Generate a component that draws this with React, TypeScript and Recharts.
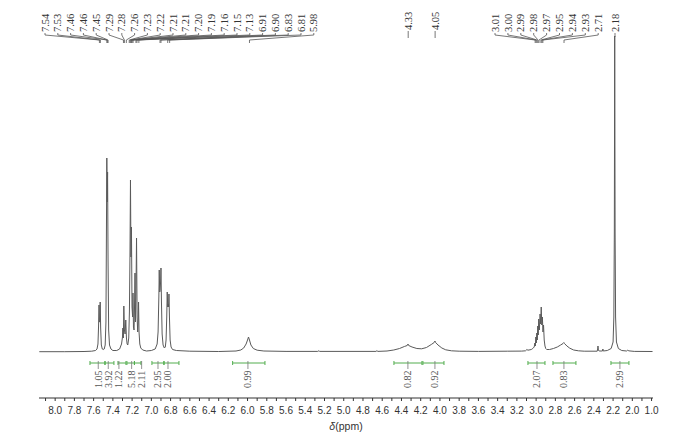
import React from 'react';
import { ComposedChart, Line, Scatter, XAxis, YAxis, ReferenceLine } from 'recharts';

// 1H NMR trace: [chemical shift (ppm), intensity]
const spectrum: [number, number][] = [
  [8.165, 0.3], [7.9, 0.3], [7.7, 0.5], [7.62, 0.8], [7.58, 1.5], [7.565, 3], [7.555, 8],
  [7.549, 25], [7.544, 47], [7.54, 30], [7.536, 30], [7.532, 50], [7.527, 24], [7.52, 7],
  [7.51, 3], [7.5, 2.5], [7.49, 3], [7.48, 7], [7.472, 30], [7.467, 120], [7.463, 194],
  [7.459, 150], [7.455, 180], [7.45, 90], [7.444, 22], [7.435, 7], [7.42, 3], [7.4, 1.5],
  [7.36, 1.5], [7.33, 3], [7.31, 8], [7.3, 15], [7.296, 24], [7.291, 14], [7.286, 46],
  [7.28, 22], [7.273, 18], [7.266, 32], [7.259, 14], [7.252, 8], [7.245, 7], [7.235, 14],
  [7.228, 40], [7.222, 100], [7.217, 172], [7.212, 95], [7.207, 125], [7.201, 45],
  [7.195, 35], [7.191, 59], [7.186, 25], [7.18, 22], [7.175, 45], [7.17, 79], [7.165, 30],
  [7.16, 60], [7.154, 114], [7.148, 35], [7.142, 20], [7.137, 30], [7.133, 50], [7.128, 20],
  [7.12, 8], [7.11, 4], [7.09, 2], [7.05, 1], [7.0, 1.5], [6.96, 3], [6.94, 8], [6.93, 20],
  [6.922, 55], [6.918, 82], [6.913, 60], [6.909, 62], [6.904, 70], [6.9, 84], [6.895, 50],
  [6.888, 18], [6.878, 7], [6.865, 4], [6.855, 5], [6.847, 12], [6.84, 35], [6.835, 60],
  [6.83, 45], [6.826, 48], [6.821, 45], [6.817, 58], [6.812, 35], [6.805, 12], [6.795, 5],
  [6.78, 2.5], [6.74, 1.5], [6.6, 0.8], [6.3, 0.5], [6.12, 1], [6.07, 2], [6.04, 4],
  [6.015, 8], [6.0, 12], [5.99, 15], [5.98, 12], [5.965, 7], [5.94, 3.5], [5.9, 1.8],
  [5.83, 1], [5.6, 0.6], [5.27, 0.6], [5.258, 1.3], [5.25, 0.6], [4.665, 0.6], [4.655, 1.3],
  [4.645, 0.6], [4.55, 1], [4.48, 2], [4.42, 3.5], [4.37, 5.5], [4.34, 6.5], [4.332, 8],
  [4.325, 6.5], [4.29, 5], [4.24, 3.5], [4.19, 3.2], [4.14, 4.5], [4.09, 7.5], [4.06, 9.5],
  [4.052, 11], [4.045, 9.5], [4.02, 7], [3.98, 4], [3.94, 2.2], [3.88, 1.2], [3.8, 0.8],
  [3.6, 0.6], [3.3, 0.8], [3.15, 0.9], [3.11, 1.2], [3.096, 2.5], [3.085, 1.8], [3.05, 2.5],
  [3.035, 3.5], [3.02, 5], [3.013, 9], [3.008, 6], [3.003, 15], [2.998, 9], [2.993, 19],
  [2.988, 12], [2.983, 26], [2.978, 17], [2.973, 33], [2.966, 22], [2.959, 38], [2.953, 28],
  [2.947, 45], [2.941, 27], [2.935, 35], [2.929, 20], [2.923, 27], [2.916, 12], [2.908, 6],
  [2.9, 3.5], [2.89, 2.5], [2.86, 2.5], [2.82, 3.5], [2.78, 5], [2.745, 7], [2.72, 8.5],
  [2.712, 9.5], [2.705, 8.5], [2.68, 6], [2.65, 3.8], [2.61, 2], [2.56, 1.2], [2.5, 0.8],
  [2.365, 0.8], [2.36, 3], [2.357, 6], [2.353, 2], [2.345, 1], [2.31, 1], [2.306, 3],
  [2.302, 1], [2.26, 1.5], [2.22, 3.5], [2.2, 10], [2.192, 35], [2.187, 120], [2.183, 316],
  [2.179, 120], [2.174, 35], [2.165, 10], [2.145, 3.5], [2.11, 1.5], [2.06, 1], [2.052, 1.6],
  [2.046, 2], [2.04, 1.2], [1.98, 0.6], [1.79, 0.5],
];

// peak pick labels
const peakLabelsLeft = ['7.54', '7.53', '7.46', '7.46', '7.45', '7.29', '7.28', '7.26', '7.23', '7.22', '7.21', '7.21', '7.20', '7.19', '7.16', '7.15', '7.13', '6.91', '6.90', '6.83', '6.81', '5.98'];
const peakLabelsRight = ['3.01', '3.00', '2.99', '2.98', '2.97', '2.95', '2.94', '2.93', '2.71'];
const peakLabelsSingle = ['4.33', '4.05', '2.18'];

// integrals: range (ppm), label position (ppm), value
const integralFrom = [7.638, 7.482, 7.347, 7.254, 7.176, 6.994, 6.869, 6.155, 4.478, 4.177, 3.085, 2.825, 2.222];
const integralTo = [7.482, 7.389, 7.264, 7.176, 7.108, 6.869, 6.713, 5.819, 4.187, 3.958, 2.908, 2.586, 2.035];
const integralAt = [7.552, 7.448, 7.337, 7.205, 7.101, 6.931, 6.827, 5.996, 4.333, 4.052, 2.991, 2.711, 2.129];
const integralValues = ['1.05', '3.92', '1.22', '5.18', '2.11', '2.95', '2.00', '0.99', '0.82', '0.92', '2.07', '0.83', '2.99'];

// axis ticks
const majorTicks = [8.0, 7.8, 7.6, 7.4, 7.2, 7.0, 6.8, 6.6, 6.4, 6.2, 6.0, 5.8, 5.6, 5.4, 5.2, 5.0, 4.8, 4.6, 4.4, 4.2, 4.0, 3.8, 3.6, 3.4, 3.2, 3.0, 2.8, 2.6, 2.4, 2.2, 2.0, 1.8];
const majorTickLabels = ['8.0', '7.8', '7.6', '7.4', '7.2', '7.0', '6.8', '6.6', '6.4', '6.2', '6.0', '5.8', '5.6', '5.4', '5.2', '5.0', '4.8', '4.6', '4.4', '4.2', '4.0', '3.8', '3.6', '3.4', '3.2', '3.0', '2.8', '2.6', '2.4', '2.2', '2.0', '1.0'];
const minorTicks = [8.1, 7.9, 7.7, 7.5, 7.3, 7.1, 6.9, 6.7, 6.5, 6.3, 6.1, 5.9, 5.7, 5.5, 5.3, 5.1, 4.9, 4.7, 4.5, 4.3, 4.1, 3.9, 3.7, 3.5, 3.3, 3.1, 2.9, 2.7, 2.5, 2.3, 2.1, 1.9];
const xDomain = [1.785, 8.168];
const yDomain = [-46, 319];

const spectrumData = spectrum.map(([x, y]) => ({ x, y }));
const peakData = [
  ...peakLabelsLeft.map((label, idx) => ({ x: parseFloat(label), y: 0, label, group: 'left', idx })),
  ...peakLabelsRight.map((label, idx) => ({ x: parseFloat(label), y: 0, label, group: 'right', idx })),
  ...peakLabelsSingle.map((label, idx) => ({ x: parseFloat(label), y: 0, label, group: 'single', idx })),
];
const integralLevel = -11;
const integralData = integralAt.map((x, i) => ({ x, y: integralLevel, text: integralValues[i] }));
const allTicks = [...majorTicks, ...minorTicks].sort((a, b) => b - a);

const SERIF = "'Liberation Serif', 'Times New Roman', serif";
const SANS = "'Liberation Sans', Arial, sans-serif";
const GREEN = '#52ad4e';

const LEFT_START = 45;
const LEFT_STEP = 12.8;
const RIGHT_START = 495;
const RIGHT_STEP = 12.9;

function PeakLabel(props: any) {
  const { cx, payload } = props;
  if (cx == null || !payload) return null;
  const { label, group, idx } = payload;
  let lx = cx;
  if (group === 'left') lx = LEFT_START + idx * LEFT_STEP;
  if (group === 'right') lx = RIGHT_START + idx * RIGHT_STEP;
  const isTall = label === '2.18';
  const bottom = group === 'single' && !isTall ? 30 : 32;
  let path: string;
  if (group === 'single') {
    path = isTall ? `M${cx},33 L${cx},37` : `M${cx},31 L${cx},38`;
  } else {
    path = `M${lx},33 L${lx},35 L${cx},40 L${cx},43`;
  }
  return (
    <g>
      <path d={path} stroke="#555" strokeWidth={0.8} fill="none" />
      <text
        transform={`translate(${lx + 3.6},${bottom}) rotate(-90)`}
        fontSize={10.5}
        fontFamily={SERIF}
        fill="#333"
      >
        {label}
      </text>
    </g>
  );
}

function IntegralLabel(props: any) {
  const { cx, cy, payload } = props;
  if (cx == null || cy == null || !payload) return null;
  return (
    <g>
      <line x1={cx} y1={cy - 2} x2={cx} y2={cy + 6} stroke="#777" strokeWidth={0.8} />
      <text
        transform={`translate(${cx + 3.4},${cy + 25}) rotate(-90)`}
        fontSize={10}
        fontFamily={SERIF}
        fill="#555"
      >
        {payload.text}
      </text>
    </g>
  );
}

function AxisTitle(props: any) {
  const vb = props.viewBox || { x: 39, y: 398, width: 614, height: 40 };
  const x = vb.x + vb.width / 2;
  const y = vb.y + 32;
  return (
    <text x={x} y={y} textAnchor="middle" fontSize={10.5} fontFamily={SANS} fill="#333">
      <tspan fontStyle="italic">δ</tspan>
      <tspan>(ppm)</tspan>
    </text>
  );
}

const tickFormatter = (v: number) => {
  const i = majorTicks.findIndex((t) => Math.abs(t - v) < 1e-6);
  return i >= 0 ? majorTickLabels[i] : '';
};

export default function App() {
  return (
    <div style={{ position: 'fixed', left: 0, top: 0, width: 693, height: 438, background: '#fff' }}>
      <ComposedChart width={693} height={438} margin={{ top: 33, right: 40, bottom: 0, left: 39 }}>
        <XAxis
          type="number"
          dataKey="x"
          domain={xDomain}
          reversed
          ticks={allTicks}
          interval={0}
          tickFormatter={tickFormatter}
          tickSize={3}
          tickMargin={6}
          height={40}
          stroke="#333"
          tick={{ fill: '#333', fontSize: 10, fontFamily: SANS }}
          label={<AxisTitle />}
        />
        <YAxis type="number" dataKey="y" domain={yDomain} hide />
        {integralFrom.map((from, i) => (
          <ReferenceLine
            key={`ib${i}`}
            segment={[{ x: from, y: integralLevel }, { x: integralTo[i], y: integralLevel }]}
            stroke={GREEN}
            strokeWidth={1}
          />
        ))}
        {integralFrom.map((from, i) => (
          <ReferenceLine
            key={`il${i}`}
            segment={[{ x: from, y: integralLevel + 2 }, { x: from, y: integralLevel - 2 }]}
            stroke={GREEN}
            strokeWidth={1}
          />
        ))}
        {integralTo.map((to, i) => (
          <ReferenceLine
            key={`ir${i}`}
            segment={[{ x: to, y: integralLevel + 2 }, { x: to, y: integralLevel - 2 }]}
            stroke={GREEN}
            strokeWidth={1}
          />
        ))}
        <Line
          data={spectrumData}
          dataKey="y"
          type="linear"
          stroke="#5a5a5a"
          strokeWidth={1}
          dot={false}
          activeDot={false}
          isAnimationActive={false}
        />
        <Scatter data={peakData} dataKey="y" shape={PeakLabel} isAnimationActive={false} />
        <Scatter data={integralData} dataKey="y" shape={IntegralLabel} isAnimationActive={false} />
      </ComposedChart>
    </div>
  );
}
